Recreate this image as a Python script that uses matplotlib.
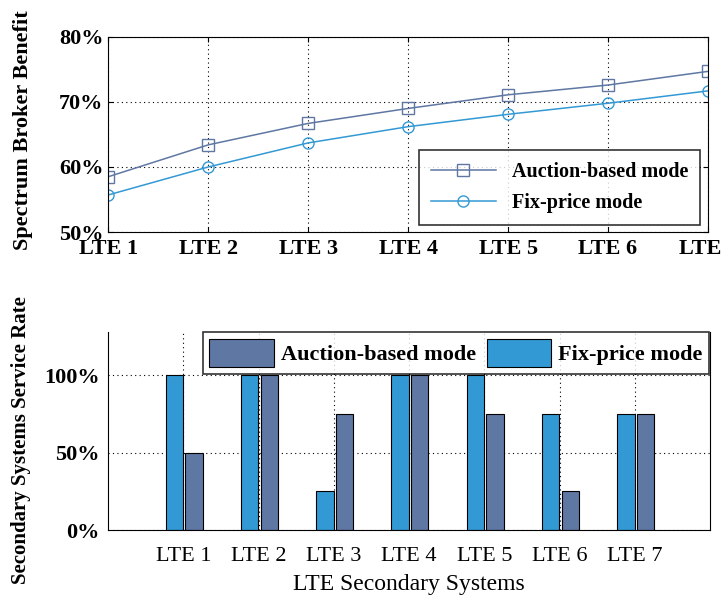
import matplotlib.pyplot as plt
import numpy as np

plt.rcParams['font.family'] = ['Liberation Serif', 'DejaVu Serif']

systems = ["LTE 1", "LTE 2", "LTE 3", "LTE 4", "LTE 5", "LTE 6", "LTE 7"]

# broker benefit (%)
benefit_auction = [58.5, 63.4, 66.7, 69.0, 71.1, 72.6, 74.7]
benefit_fix = [55.7, 60.0, 63.7, 66.2, 68.1, 69.8, 71.7]

# service rate (%)
rate_fix = [100, 100, 25, 100, 100, 75, 75]
rate_auction = [50, 100, 75, 100, 75, 25, 75]

c_auc = "#5f77a3"
c_fix = "#3399d4"

fig = plt.figure(figsize=(7.21, 5.95), dpi=100)

# top panel
ax1 = fig.add_axes([0.150, 0.610, 0.832, 0.328])
x = np.arange(1, 8)
ax1.plot(x, benefit_auction, color=c_auc, lw=1.1, marker="s", ms=8,
         mfc="none", mec=c_auc, label="Auction-based mode")
ax1.plot(x, benefit_fix, color=c_fix, lw=1.1, marker="o", ms=8,
         mfc="none", mec=c_fix, label="Fix-price mode")
ax1.set_xlim(1, 7)
ax1.set_ylim(50, 80)
ax1.set_xticks(x)
ax1.set_xticklabels(systems)
ax1.set_yticks([50, 60, 70, 80])
ax1.set_yticklabels(["50%", "60%", "70%", "80%"])
ax1.grid(True, color="black", ls=(0, (1, 3)), lw=0.8)
ax1.tick_params(direction="in", top=True, right=True, labelsize=16)
ax1.tick_params(axis="x", pad=5)
for t in ax1.get_xticklabels() + ax1.get_yticklabels():
    t.set_fontweight("bold")
ax1.set_ylabel("Spectrum Broker Benefit", fontsize=16, fontweight="bold")
ax1.yaxis.set_label_coords(-0.125, 0.52)
leg1 = ax1.legend(loc="lower right", fontsize=14.5, frameon=True, fancybox=False,
                  edgecolor="black", handlelength=3.2, borderpad=0.6,
                  labelspacing=0.55, borderaxespad=0,
                  bbox_to_anchor=(0.987, 0.036))
leg1.get_frame().set_linewidth(1.2)
for t in leg1.get_texts():
    t.set_fontweight("bold")

# bottom panel
ax2 = fig.add_axes([0.150, 0.109, 0.835, 0.333])
w = 0.23
ax2.bar(x - 0.12, rate_fix, w, color=c_fix, edgecolor="black", lw=0.8,
        label="Fix-price mode", zorder=2)
ax2.bar(x + 0.14, rate_auction, w, color=c_auc, edgecolor="black", lw=0.8,
        label="Auction-based mode", zorder=2)
ax2.set_xlim(0, 8)
ax2.set_ylim(0, 128)
ax2.set_xticks(x)
ax2.set_xticklabels(systems)
ax2.set_yticks([0, 50, 100])
ax2.set_yticklabels(["0%", "50%", "100%"])
ax2.grid(True, color="black", ls=(0, (1, 3)), lw=0.8, zorder=0)
ax2.tick_params(direction="in", length=0, labelsize=16)
ax2.tick_params(axis="x", pad=12)
ax2.tick_params(axis="y", pad=6)
for t in ax2.get_yticklabels():
    t.set_fontweight("bold")
ax2.spines["top"].set_visible(False)
ax2.set_xlabel("LTE Secondary Systems", fontsize=17, labelpad=6)
ax2.set_ylabel("Secondary Systems Service Rate", fontsize=15, fontweight="bold")
ax2.yaxis.set_label_coords(-0.128, 0.455)
h, l = ax2.get_legend_handles_labels()
leg2 = ax2.legend(h[::-1], l[::-1], loc="upper right", ncol=2, fontsize=16,
                  frameon=True, fancybox=False, edgecolor="black",
                  handlelength=2.9, handleheight=1.6, columnspacing=0.5,
                  handletextpad=0.3, borderpad=0.3, borderaxespad=0,
                  bbox_to_anchor=(0.998, 1.0))
leg2.get_frame().set_linewidth(1.2)
for t in leg2.get_texts():
    t.set_fontweight("bold")

fig.savefig("out.png", dpi=100)
